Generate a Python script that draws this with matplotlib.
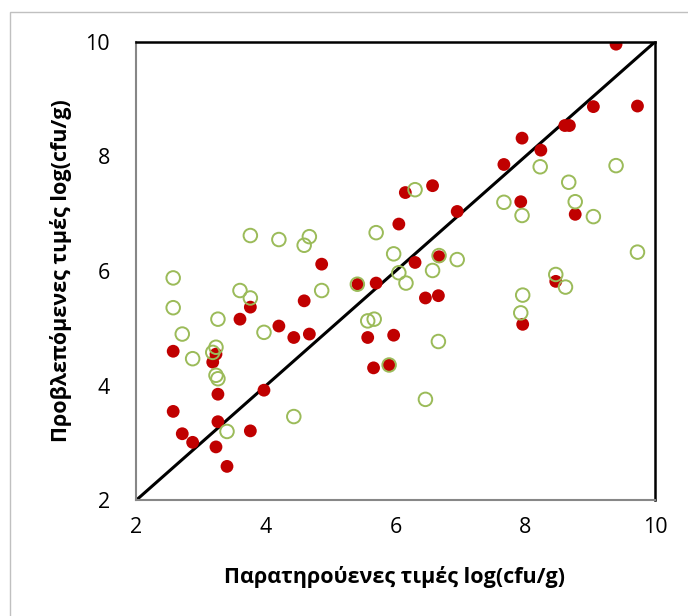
import matplotlib.pyplot as plt
from matplotlib.patches import Rectangle

plt.rcParams['font.family'] = ['Open Sans', 'DejaVu Sans']

# filled red series (observed, predicted)
red_x = [9.40, 9.73, 9.05, 8.61, 8.68, 7.95, 8.24, 7.67, 7.93, 8.77,
         6.57, 6.15, 6.95, 6.05, 6.30, 6.67, 4.86, 5.70, 5.42, 6.46,
         6.66, 8.47, 7.96, 4.59, 3.76, 3.60, 4.20, 4.43, 4.67, 5.57,
         5.97, 5.66, 5.90, 2.57, 3.23, 3.18, 3.26, 3.97, 2.57, 3.26,
         3.76, 2.71, 2.87, 3.23, 3.40]
red_y = [9.96, 8.88, 8.87, 8.54, 8.54, 8.32, 8.11, 7.86, 7.21, 6.99,
         7.49, 7.37, 7.04, 6.82, 6.15, 6.25, 6.12, 5.79, 5.77, 5.53,
         5.57, 5.82, 5.07, 5.48, 5.37, 5.16, 5.04, 4.84, 4.90, 4.84,
         4.88, 4.31, 4.36, 4.60, 4.55, 4.41, 3.85, 3.92, 3.55, 3.37,
         3.21, 3.16, 3.01, 2.93, 2.59]

# open green series
green_x = [9.40, 8.23, 8.67, 8.77, 7.67, 7.95, 9.05, 9.73, 6.30, 5.70,
           3.76, 4.20, 4.67, 4.59, 5.97, 6.95, 6.67, 6.05, 6.57, 6.16,
           5.41, 2.57, 2.57, 3.60, 3.76, 4.86, 8.47, 8.62, 7.96, 7.93,
           3.26, 5.57, 5.67, 2.71, 3.97, 6.66, 3.23, 3.18, 2.87, 3.23,
           3.26, 5.90, 6.46, 4.43, 3.40]
green_y = [7.84, 7.82, 7.55, 7.21, 7.20, 6.97, 6.95, 6.33, 7.42, 6.67,
           6.62, 6.55, 6.60, 6.45, 6.30, 6.20, 6.27, 5.97, 6.01, 5.79,
           5.77, 5.88, 5.36, 5.66, 5.53, 5.66, 5.94, 5.72, 5.58, 5.27,
           5.16, 5.13, 5.16, 4.90, 4.93, 4.77, 4.67, 4.58, 4.47, 4.18,
           4.12, 4.36, 3.76, 3.46, 3.20]

ticks = [2, 4, 6, 8, 10]

fig = plt.figure(figsize=(6.88, 6.16), dpi=100)
ax = fig.add_axes([0.198, 0.188, 0.754, 0.744])

# outer chart border (only left/top edges fall inside the image)
fig.patches.append(Rectangle((0.0145, -0.05), 1.2, 1.03, transform=fig.transFigure,
                             fill=False, edgecolor='#c0c0c0', linewidth=1.0))

ax.plot([2, 10], [2, 10], color='black', linewidth=2.2, zorder=1)
ax.scatter(red_x, red_y, s=85, color='#C00000', edgecolors='none', zorder=2)
ax.scatter(green_x, green_y, s=95, facecolors='none', edgecolors='#9BBB59',
           linewidths=1.4, zorder=3)

ax.set_xlim(2, 10)
ax.set_ylim(2, 10)
ax.set_xticks(ticks)
ax.set_yticks(ticks)
ax.tick_params(length=0, labelsize=15.5)
ax.tick_params(axis='y', pad=19)
ax.tick_params(axis='x', pad=12)

for side in ['top', 'right']:
    ax.spines[side].set_color('black')
    ax.spines[side].set_linewidth(1.8)
for side in ['left', 'bottom']:
    ax.spines[side].set_color('#878787')
    ax.spines[side].set_linewidth(1.5)

fig.text(0.573, 0.063, 'Παρατηρούενες τιμές log(cfu/g)', fontsize=15.5,
         fontweight='bold', ha='center', va='center')
fig.text(0.089, 0.56, 'Προβλεπόμενες τιμές log(cfu/g)', fontsize=15.5,
         fontweight='bold', ha='center', va='center', rotation=90)

fig.savefig('out.png', dpi=100)
